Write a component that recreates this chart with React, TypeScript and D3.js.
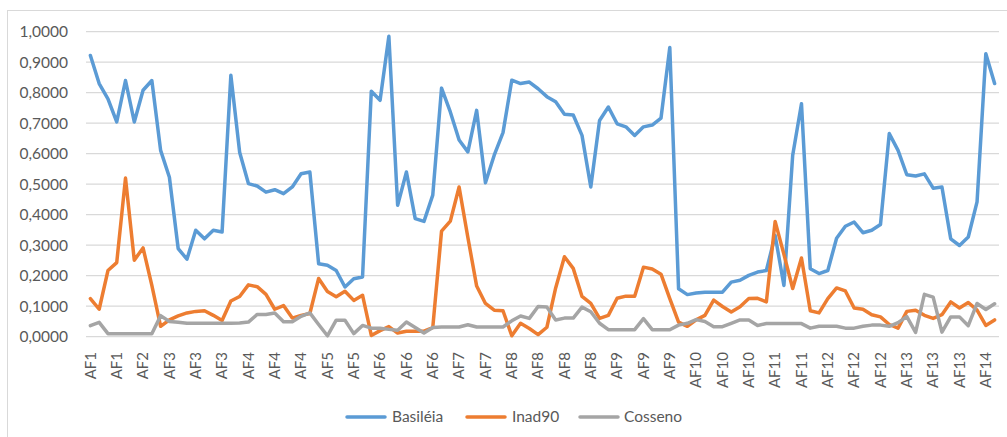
import React from 'react';
import * as d3 from 'd3';

const categories: string[] = [
  'AF1', 'AF1', 'AF1', 'AF1', 'AF1', 'AF1',
  'AF2', 'AF2', 'AF2',
  'AF3', 'AF3', 'AF3', 'AF3', 'AF3', 'AF3', 'AF3', 'AF3', 'AF3',
  'AF4', 'AF4', 'AF4', 'AF4', 'AF4', 'AF4', 'AF4', 'AF4', 'AF4',
  'AF5', 'AF5', 'AF5', 'AF5', 'AF5', 'AF5',
  'AF6', 'AF6', 'AF6', 'AF6', 'AF6', 'AF6', 'AF6', 'AF6', 'AF6',
  'AF7', 'AF7', 'AF7', 'AF7', 'AF7', 'AF7',
  'AF8', 'AF8', 'AF8', 'AF8', 'AF8', 'AF8', 'AF8', 'AF8', 'AF8', 'AF8', 'AF8', 'AF8',
  'AF9', 'AF9', 'AF9', 'AF9', 'AF9', 'AF9', 'AF9', 'AF9', 'AF9',
  'AF10', 'AF10', 'AF10', 'AF10', 'AF10', 'AF10', 'AF10', 'AF10', 'AF10',
  'AF11', 'AF11', 'AF11', 'AF11', 'AF11', 'AF11',
  'AF12', 'AF12', 'AF12', 'AF12', 'AF12', 'AF12', 'AF12', 'AF12', 'AF12',
  'AF13', 'AF13', 'AF13', 'AF13', 'AF13', 'AF13', 'AF13', 'AF13', 'AF13',
  'AF14', 'AF14',
];

const basileia: number[] = [
  0.922, 0.830, 0.780, 0.704, 0.840, 0.704, 0.808, 0.840, 0.611, 0.523,
  0.289, 0.254, 0.349, 0.321, 0.349, 0.343, 0.857, 0.605, 0.502, 0.494,
  0.474, 0.482, 0.469, 0.491, 0.534, 0.540, 0.239, 0.234, 0.217, 0.163,
  0.190, 0.196, 0.805, 0.775, 0.985, 0.431, 0.540, 0.387, 0.378, 0.464,
  0.815, 0.737, 0.645, 0.606, 0.742, 0.505, 0.595, 0.669, 0.841, 0.830,
  0.835, 0.813, 0.787, 0.770, 0.729, 0.727, 0.660, 0.491, 0.709, 0.753,
  0.698, 0.688, 0.660, 0.688, 0.694, 0.717, 0.948, 0.157, 0.138, 0.143,
  0.146, 0.146, 0.146, 0.179, 0.185, 0.201, 0.212, 0.217, 0.332, 0.168,
  0.595, 0.764, 0.223, 0.207, 0.217, 0.323, 0.362, 0.376, 0.341, 0.349,
  0.368, 0.666, 0.611, 0.531, 0.527, 0.534, 0.487, 0.491, 0.321, 0.299,
  0.327, 0.442, 0.928, 0.830,
];

const inad90: number[] = [
  0.125, 0.090, 0.217, 0.243, 0.520, 0.251, 0.291, 0.168, 0.034, 0.055,
  0.068, 0.078, 0.083, 0.085, 0.070, 0.053, 0.117, 0.132, 0.170, 0.164,
  0.139, 0.090, 0.102, 0.061, 0.070, 0.076, 0.191, 0.148, 0.131, 0.149,
  0.119, 0.136, 0.004, 0.020, 0.033, 0.012, 0.018, 0.018, 0.018, 0.030,
  0.346, 0.379, 0.491, 0.325, 0.166, 0.109, 0.087, 0.085, 0.003, 0.044,
  0.027, 0.007, 0.031, 0.160, 0.262, 0.224, 0.132, 0.109, 0.060, 0.070,
  0.126, 0.133, 0.133, 0.228, 0.222, 0.205, 0.125, 0.048, 0.034, 0.055,
  0.070, 0.120, 0.099, 0.081, 0.098, 0.125, 0.126, 0.114, 0.378, 0.270,
  0.158, 0.258, 0.085, 0.078, 0.125, 0.160, 0.150, 0.094, 0.090, 0.072,
  0.065, 0.040, 0.028, 0.083, 0.087, 0.070, 0.060, 0.072, 0.114, 0.094,
  0.112, 0.087, 0.037, 0.055,
];

const cosseno: number[] = [
  0.036, 0.047, 0.010, 0.010, 0.010, 0.010, 0.010, 0.010, 0.069, 0.050,
  0.047, 0.044, 0.044, 0.044, 0.044, 0.044, 0.044, 0.045, 0.048, 0.073,
  0.073, 0.078, 0.049, 0.049, 0.067, 0.078, 0.040, 0.003, 0.054, 0.054,
  0.010, 0.037, 0.028, 0.028, 0.024, 0.021, 0.048, 0.030, 0.012, 0.030,
  0.032, 0.032, 0.032, 0.039, 0.032, 0.032, 0.032, 0.032, 0.052, 0.068,
  0.060, 0.099, 0.097, 0.055, 0.061, 0.061, 0.097, 0.082, 0.044, 0.023,
  0.023, 0.023, 0.023, 0.059, 0.023, 0.023, 0.023, 0.038, 0.044, 0.056,
  0.050, 0.033, 0.033, 0.044, 0.055, 0.055, 0.037, 0.043, 0.043, 0.043,
  0.043, 0.043, 0.028, 0.034, 0.034, 0.034, 0.028, 0.028, 0.034, 0.038,
  0.038, 0.034, 0.046, 0.066, 0.014, 0.139, 0.130, 0.015, 0.065, 0.065,
  0.036, 0.109, 0.089, 0.108,
];

const yTicks: number[] = [0, 0.1, 0.2, 0.3, 0.4, 0.5, 0.6, 0.7, 0.8, 0.9, 1.0];
const seriesNames: string[] = ['Basiléia', 'Inad90', 'Cosseno'];
const seriesColors: string[] = ['#5B9BD5', '#ED7D31', '#A5A5A5'];

const W = 1007;
const H = 437;
const FONT = 'Lato, "Open Sans", sans-serif';
const TEXT = '#595959';

export default function App() {
  const left = 86;
  const right = 999;
  const top = 31.7;
  const bottom = 336.7;

  const x = d3
    .scaleBand<number>()
    .domain(d3.range(categories.length))
    .range([left, right])
    .padding(0);
  const cx = (i: number) => (x(i) as number) + x.bandwidth() / 2;
  const y = d3.scaleLinear().domain([0, 1]).range([bottom, top]);

  const locale = d3.formatLocale({
    decimal: ',',
    thousands: '.',
    grouping: [3],
    currency: ['R$', ''],
  });
  const fmt = locale.format('.4f');

  const line = d3
    .line<number>()
    .x((_, i) => cx(i))
    .y((d) => y(d));

  const series = [basileia, inad90, cosseno];

  const legendItems = [
    { lx: 347, tx: 392 },
    { lx: 467, tx: 512 },
    { lx: 580, tx: 624 },
  ];
  const legendY = 417;

  return (
    <svg
      width={W}
      height={H}
      style={{ position: 'absolute', left: 0, top: 0, background: '#fff' }}
      fontFamily={FONT}
    >
      <rect x={7.5} y={10.5} width={1010} height={440} fill="#fff" stroke="#d9d9d9" strokeWidth={1} />
      {yTicks.map((t) => (
        <g key={t}>
          <line x1={left} x2={right} y1={y(t)} y2={y(t)} stroke="#d9d9d9" strokeWidth={1.3} />
          <text x={68} y={y(t)} dy="0.35em" textAnchor="end" fontSize={15.5} fill={TEXT}>
            {fmt(t)}
          </text>
        </g>
      ))}
      {categories.map((c, i) =>
        i % 3 === 0 ? (
          <text
            key={i}
            transform={`translate(${cx(i)},352) rotate(-90)`}
            dy="0.35em"
            textAnchor="end"
            fontSize={15}
            fill={TEXT}
          >
            {c}
          </text>
        ) : null
      )}
      {series.map((s, k) => (
        <path
          key={k}
          d={line(s) as string}
          fill="none"
          stroke={seriesColors[k]}
          strokeWidth={3.5}
          strokeLinejoin="round"
          strokeLinecap="round"
        />
      ))}
      {seriesNames.map((n, k) => (
        <g key={n}>
          <line
            x1={legendItems[k].lx}
            x2={legendItems[k].lx + 38}
            y1={legendY}
            y2={legendY}
            stroke={seriesColors[k]}
            strokeWidth={3.5}
            strokeLinecap="round"
          />
          <text x={legendItems[k].tx} y={legendY} dy="0.35em" fontSize={15.5} fill={TEXT}>
            {n}
          </text>
        </g>
      ))}
    </svg>
  );
}
